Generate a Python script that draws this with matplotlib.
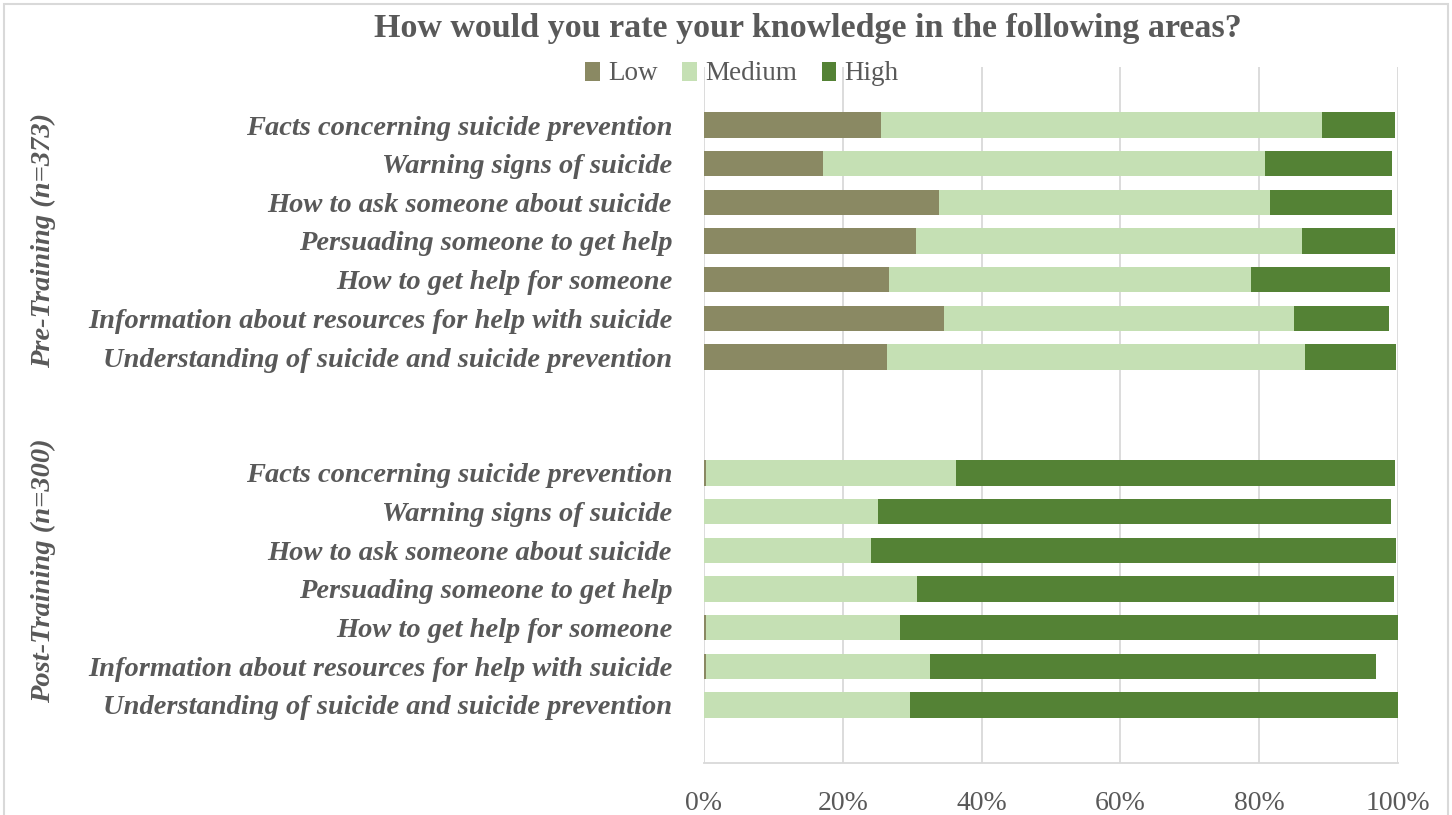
import numpy as np
import matplotlib
matplotlib.use("Agg")
import matplotlib.pyplot as plt
from matplotlib.patches import Rectangle

# Data (percent)
items = [
    "Facts concerning suicide prevention",
    "Warning signs of suicide",
    "How to ask someone about suicide",
    "Persuading someone to get help",
    "How to get help for someone",
    "Information about resources for help with suicide",
    "Understanding of suicide and suicide prevention",
]
pre_low = [25.5, 17.2, 33.8, 30.5, 26.7, 34.6, 26.3]
pre_medium = [63.6, 63.6, 47.8, 55.6, 52.1, 50.4, 60.3]
pre_high = [10.4, 18.4, 17.6, 13.4, 20.1, 13.7, 13.1]

post_low = [0.3, 0.0, 0.0, 0.0, 0.3, 0.3, 0.0]
post_medium = [36.0, 25.0, 24.0, 30.7, 28.0, 32.3, 29.7]
post_high = [63.2, 74.0, 75.7, 68.7, 71.7, 64.3, 70.3]

group_labels = ["Pre-Training (n=373)", "Post-Training (n=300)"]
series_names = ["Low", "Medium", "High"]
xticks = [0, 20, 40, 60, 80, 100]

COLORS = ["#8a8963", "#c5e0b4", "#548235"]
TEXT = "#595959"
GRID = "#d9d9d9"
SERIF = ["Liberation Serif", "DejaVu Serif"]

W, H = 1452, 815
fig = plt.figure(figsize=(W / 100, H / 100), dpi=100)
ax = fig.add_axes([704 / W, (H - 763) / H, (1398 - 704) / W, (763 - 67) / H])

# row positions: blank row on top, 7 pre, 2 blank, 7 post, blank at bottom
pre_y = np.arange(7) + 1.5
post_y = np.arange(7) + 10.5
ys = np.concatenate([pre_y, post_y])
low = np.array(pre_low + post_low)
med = np.array(pre_medium + post_medium)
high = np.array(pre_high + post_high)

bh = 0.655
ax.barh(ys, low, height=bh, color=COLORS[0], label=series_names[0], zorder=3)
ax.barh(ys, med, left=low, height=bh, color=COLORS[1], label=series_names[1], zorder=3)
ax.barh(ys, high, left=low + med, height=bh, color=COLORS[2], label=series_names[2], zorder=3)

ax.set_xlim(0, 100)
ax.set_ylim(18, 0)
ax.set_xticks(xticks)
ax.set_xticklabels([f"{t}%" for t in xticks], fontfamily=SERIF, fontsize=20, color=TEXT)
ax.set_yticks(ys)
ax.set_yticklabels(items + items, fontfamily=SERIF, fontsize=20.5, fontstyle="italic",
                   fontweight="bold", color=TEXT)
ax.tick_params(axis="y", length=0, pad=23)
ax.tick_params(axis="x", length=0, pad=20)
ax.grid(axis="x", color=GRID, linewidth=1.3, zorder=0)
for s in ["top", "right", "left"]:
    ax.spines[s].set_visible(False)
ax.spines["bottom"].set_color(GRID)
ax.spines["bottom"].set_linewidth(1.3)

# group labels
fig.text(43 / W, 1 - 240 / H, group_labels[0], rotation=90, ha="center", va="center",
         fontfamily=SERIF, fontsize=20.5, fontstyle="italic", fontweight="bold", color=TEXT)
fig.text(43 / W, 1 - 571 / H, group_labels[1], rotation=90, ha="center", va="center",
         fontfamily=SERIF, fontsize=20.5, fontstyle="italic", fontweight="bold", color=TEXT)

fig.text(808 / W, 1 - 29 / H, "How would you rate your knowledge in the following areas?",
         ha="center", va="center", fontfamily=SERIF, fontsize=24.5, fontweight="bold", color=TEXT)

leg = fig.legend(loc="center", bbox_to_anchor=(742 / W, 1 - 74 / H), ncol=3, frameon=False,
                 prop={"family": SERIF, "size": 19.5}, handlelength=0.55, handleheight=0.7,
                 handletextpad=0.3, columnspacing=0.9, labelcolor=TEXT)

# outer chart border
fig.patches.append(Rectangle((4 / W, -0.02), (W - 8) / W, 1.015, transform=fig.transFigure,
                             fill=False, edgecolor=GRID, linewidth=1.5))

fig.savefig("out.png", dpi=100)
